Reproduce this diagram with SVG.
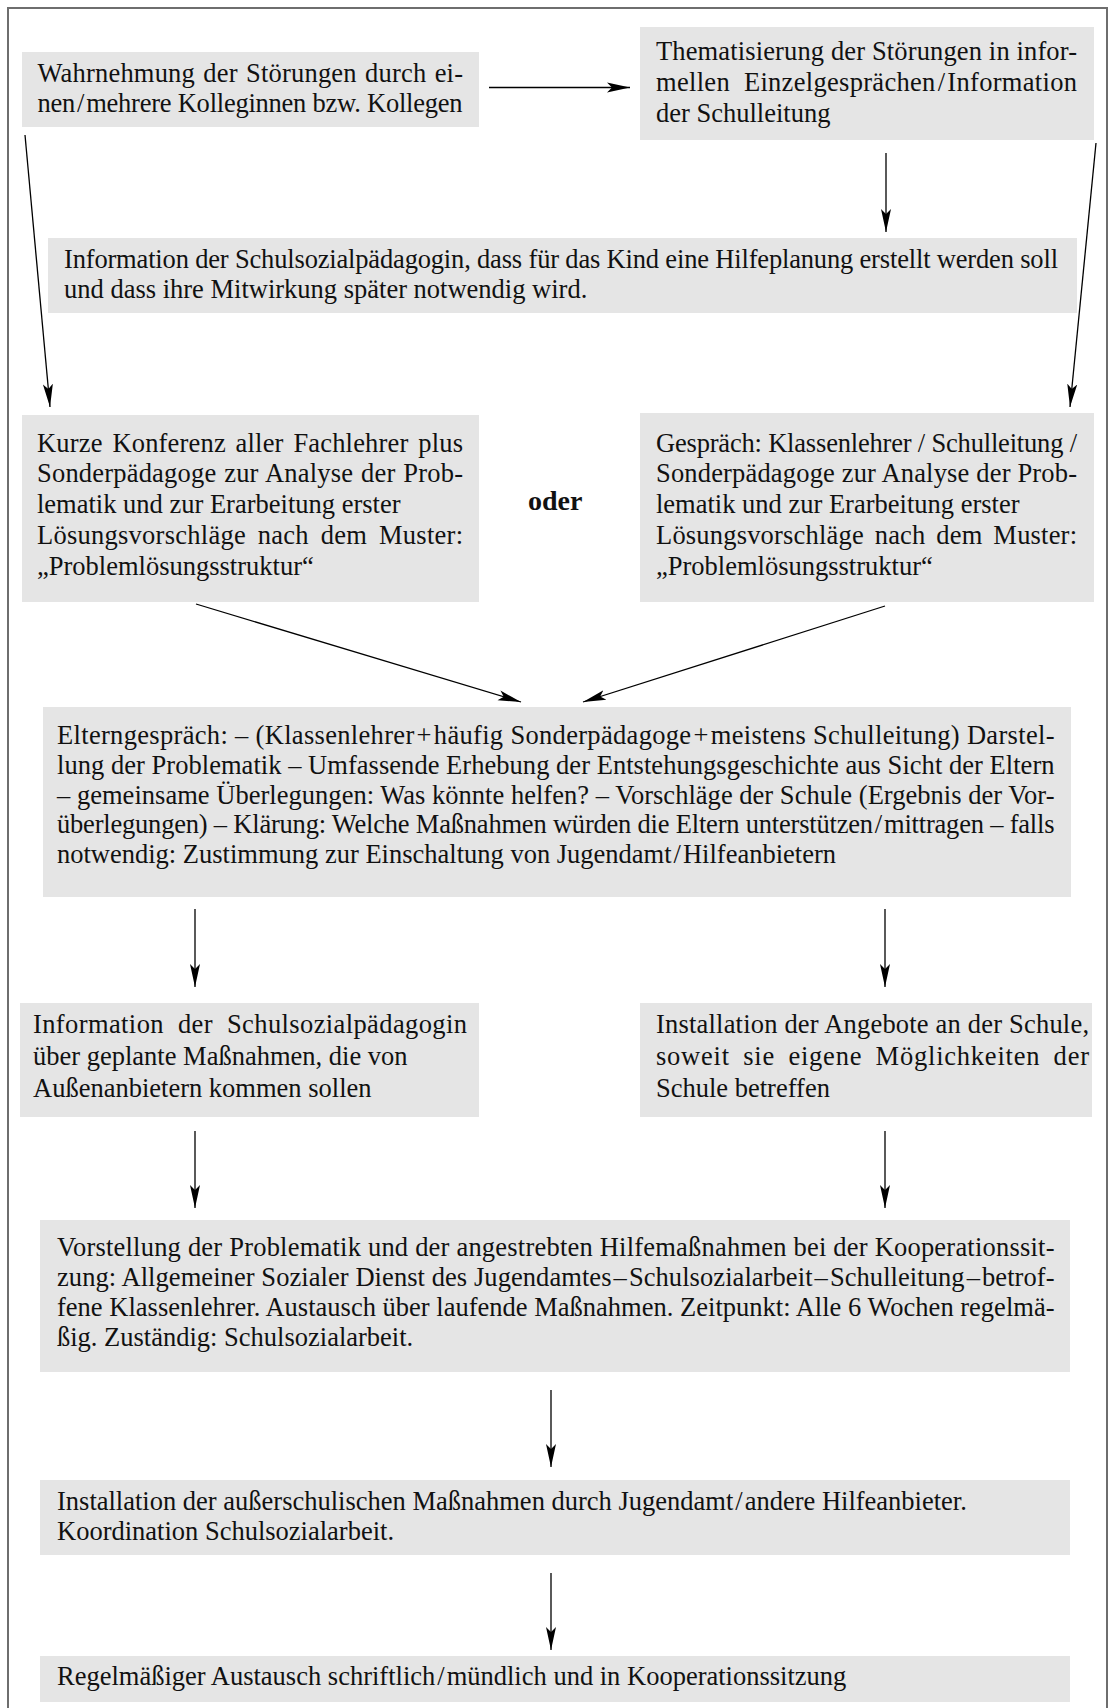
<svg xmlns="http://www.w3.org/2000/svg" width="1111" height="1708" viewBox="0 0 1111 1708">
  <style>
    .box { fill: #e5e5e5; }
    .t { font-family: "Liberation Serif", "Times New Roman", serif; font-size: 26.5px; fill: #111; }
    .b { font-family: "Liberation Serif", "Times New Roman", serif; font-size: 28px; font-weight: bold; fill: #111; }
    .edge { stroke: #000; stroke-width: 1.3; fill: none; marker-end: url(#ah); }
    .frame { stroke: #6e6e6e; stroke-width: 2; fill: none; }
  </style>
  <defs>
    <marker id="ah" markerUnits="userSpaceOnUse" markerWidth="26" markerHeight="12" refX="23" refY="6" orient="auto" viewBox="0 0 26 12">
      <path d="M0,1 L23,6 L0,11 L5,6 Z" fill="#000"/>
    </marker>
  </defs>

  <rect width="1111" height="1708" fill="#fff"/>
  <!-- outer frame (open at the bottom) -->
  <path class="frame" d="M8,1720 L8,8 L1107,8 L1107,1720"/>

  <g id="n1">
    <rect class="box" x="22" y="52" width="457" height="75"/>
    <text class="t" x="37.5" y="82" textLength="425.5" lengthAdjust="spacing" style="word-spacing:1.5px">Wahrnehmung der Störungen durch ei-</text>
    <text class="t" x="37.5" y="112" textLength="425" lengthAdjust="spacing">nen<tspan dx="2">/</tspan><tspan dx="2">mehrere</tspan> Kolleginnen bzw. Kollegen</text>
  </g>

  <g id="n2">
    <rect class="box" x="640" y="27" width="454" height="113"/>
    <text class="t" x="656" y="60" textLength="421" lengthAdjust="spacing">Thematisierung der Störungen in infor-</text>
    <text class="t" x="656" y="91" textLength="421" lengthAdjust="spacing" style="word-spacing:7px">mellen Einzelgesprächen<tspan dx="2">/</tspan><tspan dx="2">Information</tspan></text>
    <text class="t" x="656" y="122">der Schulleitung</text>
  </g>

  <g id="n3">
    <rect class="box" x="48" y="238" width="1029" height="75"/>
    <text class="t" x="64" y="268" textLength="994" lengthAdjust="spacing">Information der Schulsozialpädagogin, dass für das Kind eine Hilfeplanung erstellt werden soll</text>
    <text class="t" x="64" y="298">und dass ihre Mitwirkung später notwendig wird.</text>
  </g>

  <g id="n4">
    <rect class="box" x="22" y="415" width="457" height="187"/>
    <text class="t" x="37" y="452" textLength="426" lengthAdjust="spacing" style="word-spacing:3px">Kurze Konferenz aller Fachlehrer plus</text>
    <text class="t" x="37" y="482" textLength="426" lengthAdjust="spacing" style="word-spacing:1px">Sonderpädagoge zur Analyse der Prob-</text>
    <text class="t" x="37" y="513">lematik und zur Erarbeitung erster</text>
    <text class="t" x="37" y="544" textLength="426" lengthAdjust="spacing" style="word-spacing:5px">Lösungsvorschläge nach dem Muster:</text>
    <text class="t" x="37" y="575">„Problemlösungsstruktur“</text>
  </g>

  <g id="n-oder">
    <text class="b" x="528" y="510">oder</text>
  </g>

  <g id="n5">
    <rect class="box" x="640" y="413" width="454" height="189"/>
    <text class="t" x="656" y="452" textLength="421" lengthAdjust="spacing">Gespräch: Klassenlehrer / Schulleitung /</text>
    <text class="t" x="656" y="482" textLength="421" lengthAdjust="spacing">Sonderpädagoge zur Analyse der Prob-</text>
    <text class="t" x="656" y="513">lematik und zur Erarbeitung erster</text>
    <text class="t" x="656" y="544" textLength="421" lengthAdjust="spacing" style="word-spacing:4px">Lösungsvorschläge nach dem Muster:</text>
    <text class="t" x="656" y="575">„Problemlösungsstruktur“</text>
  </g>

  <g id="n6">
    <rect class="box" x="43" y="707" width="1028" height="190"/>
    <text class="t" x="57" y="744" textLength="997.5" lengthAdjust="spacing">Elterngespräch: – (Klassenlehrer<tspan dx="2">+</tspan><tspan dx="2">häufig</tspan> Sonderpädagoge<tspan dx="2">+</tspan><tspan dx="2">meistens</tspan> Schulleitung) Darstel-</text>
    <text class="t" x="57" y="774" textLength="997.5" lengthAdjust="spacing">lung der Problematik – Umfassende Erhebung der Entstehungsgeschichte aus Sicht der Eltern</text>
    <text class="t" x="57" y="804" textLength="997.5" lengthAdjust="spacing">– gemeinsame Überlegungen: Was könnte helfen? – Vorschläge der Schule (Ergebnis der Vor-</text>
    <text class="t" x="57" y="833" textLength="997.5" lengthAdjust="spacing">überlegungen) – Klärung: Welche Maßnahmen würden die Eltern unterstützen<tspan dx="2">/</tspan><tspan dx="2">mittragen</tspan> – falls</text>
    <text class="t" x="57" y="863">notwendig: Zustimmung zur Einschaltung von Jugendamt<tspan dx="2">/</tspan><tspan dx="2">Hilfeanbietern</tspan></text>
  </g>

  <g id="n7">
    <rect class="box" x="20" y="1003" width="459" height="114"/>
    <text class="t" x="33" y="1033" textLength="434" lengthAdjust="spacing" style="word-spacing:7px">Information der Schulsozialpädagogin</text>
    <text class="t" x="33" y="1065">über geplante Maßnahmen, die von</text>
    <text class="t" x="33" y="1097">Außenanbietern kommen sollen</text>
  </g>

  <g id="n8">
    <rect class="box" x="640" y="1003" width="452" height="114"/>
    <text class="t" x="656" y="1033" textLength="433" lengthAdjust="spacing">Installation der Angebote an der Schule,</text>
    <text class="t" x="656" y="1065" textLength="433" lengthAdjust="spacing" style="word-spacing:6px">soweit sie eigene Möglichkeiten der</text>
    <text class="t" x="656" y="1097">Schule betreffen</text>
  </g>

  <g id="n9">
    <rect class="box" x="40" y="1220" width="1030" height="152"/>
    <text class="t" x="57" y="1256" textLength="997.5" lengthAdjust="spacing">Vorstellung der Problematik und der angestrebten Hilfemaßnahmen bei der Kooperationssit-</text>
    <text class="t" x="57" y="1286" textLength="997.5" lengthAdjust="spacing">zung: Allgemeiner Sozialer Dienst des Jugendamtes<tspan dx="2">–</tspan><tspan dx="2">Schulsozialarbeit</tspan><tspan dx="2">–</tspan><tspan dx="2">Schulleitung</tspan><tspan dx="2">–</tspan><tspan dx="2">betrof-</tspan></text>
    <text class="t" x="57" y="1316" textLength="997.5" lengthAdjust="spacing">fene Klassenlehrer. Austausch über laufende Maßnahmen. Zeitpunkt: Alle 6 Wochen regelmä-</text>
    <text class="t" x="57" y="1346">ßig. Zuständig: Schulsozialarbeit.</text>
  </g>

  <g id="n10">
    <rect class="box" x="40" y="1480" width="1030" height="75"/>
    <text class="t" x="57" y="1510">Installation der außerschulischen Maßnahmen durch Jugendamt<tspan dx="2">/</tspan><tspan dx="2">andere</tspan> Hilfeanbieter.</text>
    <text class="t" x="57" y="1540">Koordination Schulsozialarbeit.</text>
  </g>

  <g id="n11">
    <rect class="box" x="40" y="1656" width="1030" height="46"/>
    <text class="t" x="57" y="1685">Regelmäßiger Austausch schriftlich<tspan dx="2">/</tspan><tspan dx="2">mündlich</tspan> und in Kooperationssitzung</text>
  </g>

  <g id="connectors">
    <line class="edge" x1="489" y1="87.5" x2="630" y2="87.5"/>
    <line class="edge" x1="886" y1="153" x2="886" y2="232"/>
    <line class="edge" x1="25" y1="135" x2="50" y2="407"/>
    <line class="edge" x1="1096" y1="143" x2="1070" y2="407"/>
    <line class="edge" x1="196" y1="604" x2="521" y2="702"/>
    <line class="edge" x1="885" y1="606" x2="583" y2="702"/>
    <line class="edge" x1="195" y1="909" x2="195" y2="987"/>
    <line class="edge" x1="885" y1="909" x2="885" y2="987"/>
    <line class="edge" x1="195" y1="1131" x2="195" y2="1208"/>
    <line class="edge" x1="885" y1="1131" x2="885" y2="1208"/>
    <line class="edge" x1="551" y1="1390" x2="551" y2="1467"/>
    <line class="edge" x1="551" y1="1573" x2="551" y2="1650"/>
  </g>
</svg>
